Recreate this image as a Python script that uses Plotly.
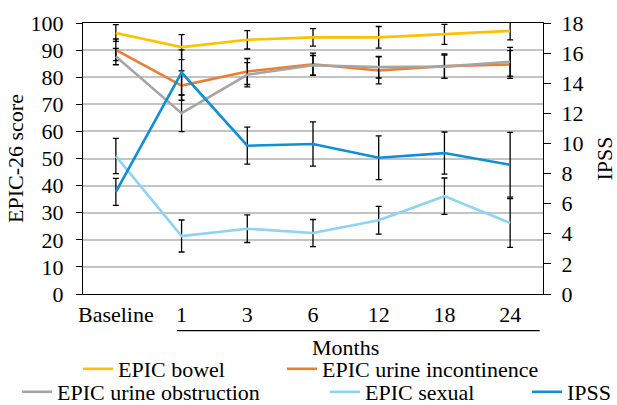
import plotly.graph_objects as go

categories = ["Baseline", "1", "3", "6", "12", "18", "24"]

bowel = [96.3, 91.1, 93.8, 94.7, 94.7, 95.8, 97.1]
bowel_err = [3.1, 4.6, 3.4, 3.2, 4.0, 3.7, 3.3]
incont = [90.1, 76.9, 82.1, 84.8, 82.5, 84.1, 84.7]
incont_err = [4.0, 5.4, 4.8, 4.1, 5.0, 4.5, 5.1]
obstr = [87.6, 66.7, 80.9, 84.4, 83.7, 83.9, 85.7]
obstr_err = [3.0, 6.8, 4.5, 3.6, 4.0, 4.3, 5.3]
sexual = [50.9, 21.4, 24.1, 22.5, 27.2, 36.1, 26.2]
sexual_err = [6.5, 5.9, 5.1, 5.0, 5.1, 6.7, 9.0]
ipss = [6.78, 14.71, 9.85, 9.96, 9.05, 9.36, 8.58]
ipss_err = [0.9, 1.5, 1.23, 1.47, 1.45, 1.4, 2.15]

FONT = "Liberation Serif"
FS = 22

series = [
    ("EPIC bowel", bowel, bowel_err, "#FFC000", "y", "legend"),
    ("EPIC urine incontinence", incont, incont_err, "#ED7D31", "y", "legend2"),
    ("EPIC urine obstruction", obstr, obstr_err, "#A5A5A5", "y", "legend3"),
    ("EPIC sexual", sexual, sexual_err, "#8ED3F6", "y", "legend4"),
    ("IPSS", ipss, ipss_err, "#0E8FD8", "y2", "legend5"),
]

fig = go.Figure()
for name, vals, errs, color, yax, leg in series:
    fig.add_trace(go.Scatter(
        x=categories, y=vals, name=name, mode="lines", yaxis=yax, legend=leg,
        line=dict(color=color, width=2.6),
        error_y=dict(type="data", array=errs, visible=True, color="black",
                     thickness=1.3, width=3),
    ))

W, H = 617, 405
ml, mr, mt, mb = 83, 74, 23, 111
pw = W - ml - mr
ph = H - mt - mb

def px_to_paper_x(px):
    return (px - ml) / pw

def py_to_paper_y(py):
    return (H - mb - py) / ph

# legend item text start positions (px) and row centers
leg_pos = {
    "legend": (118, 369),
    "legend2": (322, 369),
    "legend3": (57, 392),
    "legend4": (365, 392),
    "legend5": (567, 392),
}
legend_layout = {}
for key, (tx, ty) in leg_pos.items():
    legend_layout[key] = dict(
        x=px_to_paper_x(tx - 40), y=py_to_paper_y(ty), xanchor="left", yanchor="middle",
        orientation="h", bgcolor="rgba(0,0,0,0)", borderwidth=0,
        font=dict(family=FONT, size=FS, color="black"),
        itemwidth=30,
    )

fig.update_layout(
    width=W, height=H,
    margin=dict(l=ml, r=mr, t=mt, b=mb, autoexpand=False),
    paper_bgcolor="white", plot_bgcolor="white",
    font=dict(family=FONT, size=FS, color="black"),
    showlegend=True,
    xaxis=dict(type="category", range=[-0.5, 6.5], showline=True, linecolor="black",
               linewidth=1.3, mirror=True, ticks="", showgrid=False, ticklabelstandoff=0,
               tickfont=dict(family=FONT, size=FS)),
    yaxis=dict(range=[0, 100], dtick=10, showline=True, linecolor="black", linewidth=1.3,
               ticks="outside", ticklen=6, tickcolor="black", showgrid=True,
               gridcolor="#C4C4C4", gridwidth=1.5, zeroline=False,
               ticklabelstandoff=8,
               title=dict(text="EPIC-26 score", standoff=0,
                          font=dict(family=FONT, size=FS))),
    yaxis2=dict(range=[0, 18], dtick=2, overlaying="y", side="right", showline=True,
                linecolor="black", linewidth=1.3, ticks="outside", ticklen=7,
                tickcolor="black", showgrid=False, zeroline=False,
                ticklabelstandoff=6,
                title=dict(text="IPSS", standoff=16, font=dict(family=FONT, size=FS))),
    **legend_layout,
)

# bracket line under month categories and "Months" label
fig.add_shape(type="line", xref="x", yref="paper", x0=0.93, x1=6.45,
              y0=py_to_paper_y(330.7), y1=py_to_paper_y(330.7),
              line=dict(color="black", width=1.3))
fig.add_annotation(text="Months", xref="x", yref="paper", x=3.5, y=py_to_paper_y(347),
                   xanchor="center", yanchor="middle", showarrow=False,
                   font=dict(family=FONT, size=FS, color="black"))

fig.write_html("out.html", config={"displayModeBar": False},
               post_script="document.body.style.margin='0px';document.body.style.overflow='hidden';")
